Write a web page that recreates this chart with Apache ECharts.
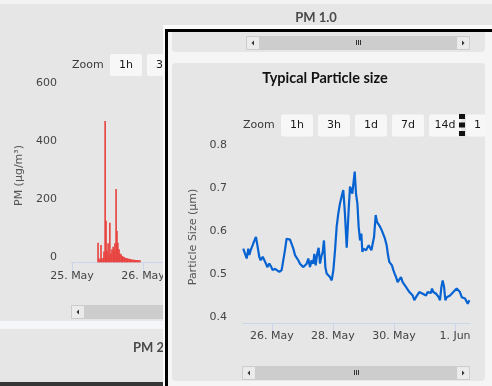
<!DOCTYPE html>
<html><head><meta charset="utf-8">
<script src="https://cdn.jsdelivr.net/npm/echarts@6/dist/echarts.min.js"></script>
<style>
html,body{margin:0;padding:0;width:492px;height:386px;overflow:hidden;background:#f3f3f3;}
#left{position:absolute;left:0;top:0;width:492px;height:386px;}
#right{position:absolute;left:163px;top:25px;width:329px;height:361px;}
</style></head><body>
<div id="left"></div><div id="right"></div>
<script>
// ---- PM 1.0 (hours since 25 May 00:00) ----
const pmHours = [8.8, 9.1, 9.5, 9.8, 10.1, 10.5, 10.8, 11.2, 11.5, 11.8, 12.2, 12.5, 12.8, 13.2, 13.5,
  13.9, 14.2, 14.5, 14.9, 15.2, 15.5, 15.9, 16.2, 16.6, 16.9, 17.2, 17.6, 17.9, 18.3, 18.6, 18.9,
  19.3, 19.6, 19.9, 20.3, 20.6, 21.0, 21.3, 21.6, 22.0, 22.3, 22.6, 23.0];
const pmValues = [68, 14, 10, 60, 12, 15, 37, 488, 144, 40, 66, 25, 137, 30, 45,
  54, 40, 66, 253, 108, 68, 45, 30, 28, 22, 20, 18, 16, 15, 14, 12,
  12, 11, 10, 10, 9, 9, 8, 8, 8, 7, 7, 7];
const pmTickHours = [0, 24];
const pmTickLabels = ['25. May', '26. May'];

// ---- Typical particle size (hours since 25 May 00:00) ----
const sizeHours = [1.4, 2.8, 4.1, 5.4, 6.2, 7.2, 8.8, 9.8, 11.4, 12.5, 14.0, 15.1, 16.7, 17.7, 19.3,
  20.3, 21.9, 23.5, 24.5, 26.4, 27.7, 29.8, 31.6, 32.9, 34.2, 35.5, 36.9, 38.2, 39.5, 40.8,
  42.1, 43.4, 44.7, 46.0, 47.3, 48.7, 50.0, 51.3, 52.6, 53.9, 55.2, 56.5, 57.3, 58.4, 59.2,
  59.9, 60.7, 61.8, 62.8, 63.9, 64.9, 66.0, 67.0, 68.3, 69.6, 71.0, 72.3, 73.6, 74.9, 76.2,
  77.5, 78.8, 80.1, 81.4, 82.8, 83.8, 84.6, 85.4, 86.4, 87.2, 88.0, 89.1, 90.1, 91.2, 92.2,
  93.3, 94.3, 95.1, 95.9, 96.9, 98.0, 99.0, 100.1, 101.1, 102.2, 103.2, 104.3, 105.6, 106.6, 107.7,
  109.0, 110.3, 111.6, 112.9, 114.2, 115.3, 116.3, 117.4, 118.4, 119.5, 120.5, 121.6, 122.9, 124.2, 125.5,
  126.8, 128.1, 129.4, 130.8, 132.1, 133.4, 134.7, 136.0, 137.3, 138.6, 139.9, 141.2, 142.6, 143.9, 145.2,
  146.5, 147.8, 149.1, 149.9, 151.0, 152.0, 153.1, 154.1, 155.2, 156.2, 157.3, 158.3, 159.4, 160.4, 161.5,
  162.8, 164.1, 165.4, 166.7, 168.0, 169.3, 170.6, 171.9, 173.3, 174.6, 175.9, 177.2, 178.0, 179.3];
const sizeValues = [0.573, 0.569, 0.550, 0.573, 0.558, 0.569, 0.581, 0.589, 0.600, 0.581, 0.554, 0.546, 0.554, 0.550, 0.538,
  0.530, 0.538, 0.530, 0.523, 0.526, 0.523, 0.519, 0.523, 0.526, 0.569, 0.596, 0.594, 0.594, 0.596, 0.573,
  0.558, 0.554, 0.546, 0.538, 0.534, 0.530, 0.530, 0.538, 0.550, 0.530, 0.546, 0.538, 0.561, 0.534, 0.554,
  0.565, 0.575, 0.538, 0.554, 0.565, 0.592, 0.530, 0.515, 0.511, 0.507, 0.499, 0.523, 0.569, 0.624, 0.655,
  0.678, 0.694, 0.709, 0.655, 0.575, 0.575, 0.678, 0.717, 0.709, 0.701, 0.701, 0.752, 0.701, 0.678, 0.624,
  0.592, 0.608, 0.565, 0.573, 0.577, 0.569, 0.569, 0.581, 0.577, 0.569, 0.565, 0.600, 0.651, 0.635, 0.631,
  0.624, 0.616, 0.612, 0.596, 0.581, 0.558, 0.542, 0.538, 0.534, 0.523, 0.515, 0.507, 0.495, 0.495, 0.507,
  0.495, 0.492, 0.484, 0.484, 0.472, 0.472, 0.464, 0.453, 0.460, 0.464, 0.472, 0.468, 0.468, 0.472, 0.464,
  0.472, 0.476, 0.470, 0.480, 0.472, 0.468, 0.468, 0.472, 0.460, 0.453, 0.484, 0.499, 0.484, 0.453, 0.460,
  0.460, 0.464, 0.464, 0.472, 0.472, 0.480, 0.484, 0.472, 0.460, 0.457, 0.457, 0.453, 0.445, 0.453];
const sizeTickHours = [24, 72, 120, 168];
const sizeTickLabels = ['26. May', '28. May', '30. May', '1. Jun'];
const zoomButtons = ['1h', '3h', '1d', '7d', '14d'];

const FONT = '"DejaVu Sans", Verdana, sans-serif';
const TITLE_FONT = 'bold 13px Lato, "Liberation Sans", sans-serif';
const BIG_TITLE_FONT = 'bold 14.5px Lato, "Liberation Sans", sans-serif';

function txt(x, y, text, font, fill, align, z) {
  return {type: 'text', x: x, y: y, z: z || 1, silent: true,
    style: {text: text, font: font, fill: fill, textAlign: align || 'left', textVerticalAlign: 'middle',
      align: align || 'left', verticalAlign: 'middle'}};
}
function rect(x, y, w, h, fill, r, stroke, z) {
  const e = {type: 'rect', z: z || 0, silent: true, shape: {x: x, y: y, width: w, height: h, r: r || 0},
    style: {fill: fill}};
  if (stroke) { e.style.stroke = stroke; e.style.lineWidth = 1; }
  return e;
}
function scrollbar(x, y, w, h, grip) {
  const els = [];
  els.push(rect(x + 0.5, y + 0.5, w - 1, h - 1, '#cdcdcd', 0, '#cccccc'));
  els.push(rect(x + 0.5, y + 0.5, h - 1, h - 1, '#ebebeb', 0, '#cccccc', 1));
  els.push({type: 'polygon', z: 2, silent: true,
    shape: {points: [[x + 5.5, y + h / 2], [x + 8, y + h / 2 - 2.5], [x + 8, y + h / 2 + 2.5]]},
    style: {fill: '#333'}});
  if (grip) {
    els.push(rect(x + w - h + 0.5, y + 0.5, h - 1, h - 1, '#ebebeb', 0, '#cccccc', 1));
    els.push({type: 'polygon', z: 2, silent: true,
      shape: {points: [[x + w - 5.5, y + h / 2], [x + w - 8, y + h / 2 - 2.5], [x + w - 8, y + h / 2 + 2.5]]},
      style: {fill: '#333'}});
    const cx = Math.round(x + w / 2);
    [-2, 0, 2].forEach(function (d) {
      els.push(rect(cx + d, Math.round(y + h / 2 - 3), 1, 5, '#333', 0, null, 2));
    });
  }
  return els;
}
function zoomRow(x0, y, buttonXs, labels) {
  const els = [txt(x0, y + 11, 'Zoom', '11px ' + FONT, '#3a3a3a', 'left')];
  labels.forEach(function (l, i) {
    els.push(rect(buttonXs[i], y, 32, 22, '#f7f7f7', 2));
    els.push(txt(buttonXs[i] + 16, y + 11, l, '11px ' + FONT, '#1a1a1a', 'center'));
  });
  return els;
}

// ================= LEFT (PM 1.0) =================
const leftChart = echarts.init(document.getElementById('left'), null, {renderer: 'canvas'});
const leftGraphics = [
  rect(0, 0, 492, 386, '#f3f3f3'),
  rect(0, 4, 492, 317, '#e6e6e6'),
  rect(0, 321, 492, 8, '#f4f6fa'),
  rect(0, 329, 492, 53, '#e6e6e6'),
  rect(0, 382, 492, 4, '#363636'),
  txt(316, 18, 'PM 1.0', TITLE_FONT, '#4a4a4a', 'center'),
  txt(133, 348, 'PM 2.5', TITLE_FONT, '#4a4a4a', 'left')
].concat(zoomRow(72, 54, [110, 147], ['1h', '3h'])).concat(scrollbar(71, 305, 160, 14, false));

leftChart.setOption({
  animation: false,
  graphic: {elements: leftGraphics},
  grid: {left: 71, top: 88.7, width: 355, height: 173.6},
  xAxis: {
    type: 'value', min: -0.34, max: 119.66, z: 5,
    axisLine: {lineStyle: {color: '#ccd6eb'}},
    splitLine: {show: false},
    axisTick: {length: 9, lineStyle: {color: '#ccd6eb'}, customValues: pmTickHours},
    axisLabel: {customValues: pmTickHours, margin: 8, color: '#444', fontSize: 11, fontFamily: FONT,
      formatter: function (v) { const i = pmTickHours.indexOf(v); return i >= 0 ? pmTickLabels[i] : ''; }}
  },
  yAxis: {
    type: 'value', min: 0, max: 600, interval: 200, z: 5,
    name: 'PM (µg/m³)', nameLocation: 'middle', nameGap: 45, nameRotate: 90,
    nameTextStyle: {color: '#555', fontSize: 11, fontFamily: FONT},
    axisLine: {show: false}, axisTick: {show: false}, splitLine: {show: false},
    axisLabel: {color: '#444', fontSize: 11, fontFamily: FONT, margin: 14, verticalAlign: 'bottom'}
  },
  series: [{
    type: 'bar', z: 10, barWidth: 1.6,
    data: pmHours.map(function (h, i) { return [h, pmValues[i]]; }),
    itemStyle: {color: '#e8403c'}
  }]
});

// ================= RIGHT (Typical Particle size) =================
const rightChart = echarts.init(document.getElementById('right'), null, {renderer: 'canvas'});
const rightGraphics = [
  rect(0, 0, 329, 361, '#fafafa'),
  rect(2, 4, 327, 357, '#f5f5f5'),
  rect(2, 4, 327, 3, '#000'),
  rect(2, 4, 3, 357, '#000'),
  rect(9, 7, 313, 20, '#e6e6e6', [0, 0, 4, 4]),
  rect(9, 38, 313, 318, '#e6e6e6', 4),
  txt(162, 53, 'Typical Particle size', BIG_TITLE_FONT, '#111', 'center')
].concat(scrollbar(83, 11, 224, 14, true))
 .concat(zoomRow(80, 89.5, [118, 155, 192, 229, 266], zoomButtons))
 .concat([
  rect(303, 89.5, 19, 22, '#f7f7f7', [2, 0, 0, 2]),
  txt(311, 100.5, '1', '11px ' + FONT, '#1a1a1a', 'left'),
  rect(296, 89, 6, 5, '#111', 0, null, 3),
  rect(296, 97.5, 6, 5, '#111', 0, null, 3),
  rect(296, 106, 6, 5, '#111', 0, null, 3)
 ]).concat(scrollbar(79, 341, 228, 14, true));

rightChart.setOption({
  animation: false,
  graphic: {elements: rightGraphics},
  grid: {left: 80, top: 126, right: 22, bottom: 63},
  xAxis: {
    type: 'value', min: 1.2, max: 179.8, z: 5,
    axisLine: {lineStyle: {color: '#ccd6eb'}},
    splitLine: {show: false},
    axisTick: {length: 8, lineStyle: {color: '#ccd6eb'}, customValues: sizeTickHours},
    axisLabel: {customValues: sizeTickHours, margin: 8, color: '#444', fontSize: 11, fontFamily: FONT,
      formatter: function (v) { const i = sizeTickHours.indexOf(v); return i >= 0 ? sizeTickLabels[i] : ''; }}
  },
  yAxis: {
    type: 'value', min: 0.4, max: 0.8, interval: 0.1, z: 5,
    name: 'Particle Size (µm)', nameLocation: 'middle', nameGap: 42, nameRotate: 90,
    nameTextStyle: {color: '#555', fontSize: 11, fontFamily: FONT},
    axisLine: {show: false}, axisTick: {show: false}, splitLine: {show: false},
    axisLabel: {color: '#444', fontSize: 11, fontFamily: FONT, margin: 16, verticalAlign: 'bottom',
      formatter: function (v) { return v.toFixed(1); }}
  },
  series: [{
    type: 'line', z: 10, showSymbol: false, symbol: 'none',
    data: sizeHours.map(function (h, i) { return [h, sizeValues[i]]; }),
    lineStyle: {color: '#0763d2', width: 2.2}
  }]
});
</script>
</body></html>
